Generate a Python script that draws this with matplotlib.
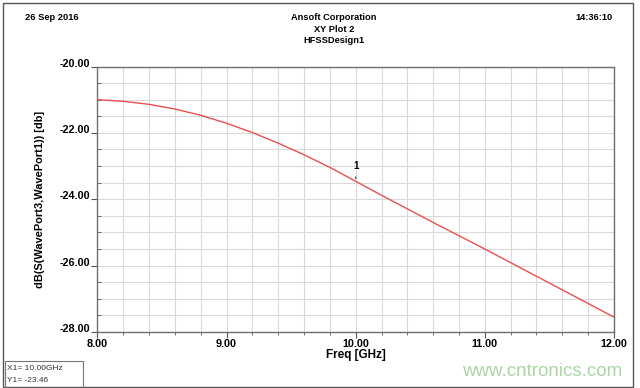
import matplotlib
matplotlib.use("Agg")
import matplotlib.pyplot as plt
from matplotlib.ticker import MultipleLocator, FormatStrFormatter
from matplotlib.patches import Rectangle

plt.rcParams['font.family'] = ['Liberation Sans', 'DejaVu Sans']

freq_ghz = [8.0, 8.2, 8.4, 8.6, 8.8, 9.0, 9.2, 9.4, 9.6, 9.8, 10.0,
            10.2, 10.4, 10.6, 10.8, 11.0, 11.2, 11.4, 11.6, 11.8, 12.0]
s31_db = [-21.00, -21.05, -21.14, -21.28, -21.47, -21.71, -21.99, -22.31, -22.66, -23.04, -23.46,
          -23.88, -24.29, -24.70, -25.10, -25.50, -25.91, -26.32, -26.73, -27.14, -27.55]
marker_x = 10.00
marker_y = -23.46

fig = plt.figure(figsize=(6.4, 3.88), dpi=100)
ax = fig.add_axes([0.1523, 0.1443, 0.807, 0.6843])

ax.plot(freq_ghz, s31_db, color='#e8504f', lw=1.0, zorder=3, solid_joinstyle='round')

ax.set_xlim(8, 12)
ax.set_ylim(-28, -20)
ax.xaxis.set_major_locator(MultipleLocator(1))
ax.xaxis.set_minor_locator(MultipleLocator(0.2))
ax.yaxis.set_major_locator(MultipleLocator(2))
ax.yaxis.set_minor_locator(MultipleLocator(0.5))
ax.xaxis.set_major_formatter(FormatStrFormatter('%.2f'))
ax.yaxis.set_major_formatter(FormatStrFormatter('%.2f'))
ax.grid(True, which='both', color='#d9d9d9', lw=0.8, zorder=0)
for s in ax.spines.values():
    s.set_color('#707070')
    s.set_linewidth(1.0)
ax.tick_params(axis='both', which='major', labelsize=7.8, length=4, width=0.8,
               color='#555555', pad=1)
ax.tick_params(axis='y', which='minor', direction='in', length=3, color='#555555')
ax.tick_params(axis='x', which='minor', direction='out', length=2, color='#555555')
for lab in ax.get_xticklabels() + ax.get_yticklabels():
    lab.set_fontweight('bold')
for lab in ax.get_yticklabels():
    lab.set_va('baseline')

ax.set_xlabel('Freq [GHz]', fontsize=8.5, fontweight='bold', labelpad=0)
ax.set_ylabel('dB(S(WavePort3,WavePort1)) [db]', fontsize=7.9, fontweight='bold', labelpad=11)

# marker
ax.annotate('1', xy=(marker_x, marker_y), xytext=(marker_x, marker_y + 0.3),
            fontsize=7, fontweight='bold', ha='center', va='bottom',
            arrowprops=dict(arrowstyle='-', color='#333333', lw=0.8))

# header texts
fig.text(25/640, 1 - 18/388, '26 Sep 2016', fontsize=6.7, fontweight='bold', ha='left', va='center')
fig.text(334/640, 1 - 18/388, 'Ansoft Corporation', fontsize=6.7, fontweight='bold', ha='center', va='center')
fig.text(334/640, 1 - 29.5/388, 'XY Plot 2', fontsize=6.7, fontweight='bold', ha='center', va='center')
fig.text(334/640, 1 - 40.5/388, 'HFSSDesign1', fontsize=6.7, fontweight='bold', ha='center', va='center')
fig.text(613/640, 1 - 18/388, '14:36:10', fontsize=6.7, fontweight='bold', ha='right', va='center')

# outer frame
fig.add_artist(Rectangle((3/640, 1/388), 630/640, 384/388, transform=fig.transFigure,
                         fill=False, edgecolor='#555555', lw=1.0))

# marker box
fig.add_artist(Rectangle((5/640, 0.5/388), 78/640, 26.5/388, transform=fig.transFigure,
                         fill=False, edgecolor='#777777', lw=0.8))
fig.text(7/640, 1 - 368/388, 'X1= %.2fGHz' % marker_x, fontsize=6, ha='left', va='center', color='#333333')
fig.text(7/640, 1 - 381/388, 'Y1= %.2f' % marker_y, fontsize=6, ha='left', va='center', color='#333333')

# watermark
fig.text(622/640, 1 - 372/388, 'www.cntronics.com', fontsize=13.5, ha='right', va='center', color='#a9d6a4')

fig.savefig('out.png', dpi=100)
